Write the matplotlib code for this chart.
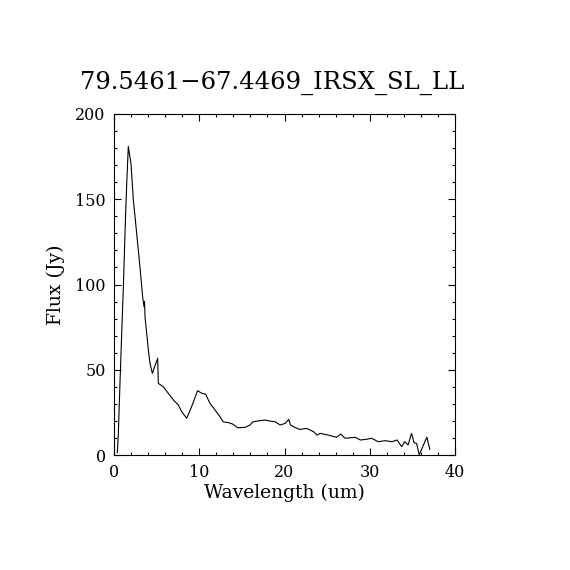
import numpy as np
import matplotlib
matplotlib.use('Agg')
import matplotlib.pyplot as plt
from matplotlib.ticker import MultipleLocator

titulo = '79.5461\u221267.4469_IRSX_SL_LL'

# comprimento de onda (um) e fluxo (Jy)
wave = [0.39, 0.51, 0.70, 0.90, 1.10, 1.29, 1.49, 1.68, 1.80, 1.99, 2.27, 2.66,
        3.05, 3.36, 3.52, 3.58, 3.64, 4.03, 4.22, 4.50, 5.12, 5.20, 5.79, 6.37,
        6.96, 7.55, 7.94, 8.53, 9.10, 9.80, 10.3, 10.75, 11.26, 11.85, 12.43, 12.8,
        13.4, 13.9, 14.5, 15.4, 15.95, 16.3, 17.1, 17.7, 18.3, 18.9, 19.5, 20.1,
        20.5, 20.7, 21.2, 21.8, 22.6, 23.4, 23.8, 24.2, 25.1, 26.1, 26.6, 27.1,
        28.3, 28.9, 29.6, 30.2, 31.0, 31.8, 32.6, 33.2, 33.75, 34.1, 34.5, 34.9,
        35.2, 35.5, 35.8, 36.3, 36.7, 37.05]
flux = [1.3, 12.7, 42.0, 71.0, 98.7, 130.0, 159.0, 181.0, 177.0, 171.0, 149.6, 130.0,
        110.0, 92.8, 87.0, 90.0, 81.0, 61.6, 53.8, 47.9, 56.7, 42.0, 40.0, 36.2,
        32.3, 29.3, 25.4, 21.5, 28.3, 37.7, 36.2, 35.6, 30.3, 26.4, 22.5, 19.5,
        19.0, 18.2, 16.0, 16.2, 17.6, 19.5, 20.1, 20.5, 19.9, 19.5, 17.6, 18.6,
        20.9, 17.6, 16.2, 15.0, 15.6, 13.7, 11.7, 12.7, 11.7, 10.4, 12.3, 9.8,
        10.4, 8.8, 9.2, 9.8, 7.8, 8.4, 7.8, 8.8, 4.9, 7.8, 5.9, 12.7,
        7.2, 6.8, 0.0, 5.9, 10.4, 3.3]

plt.rcParams['font.family'] = ['DejaVu Serif']

fig = plt.figure(figsize=(5.7, 5.7), dpi=100)
ax = fig.add_axes([114 / 570, 1 - 455 / 570, 341 / 570, 341 / 570])

ax.plot(wave, flux, color='black', linewidth=0.8)

ax.set_xlim(0, 40)
ax.set_ylim(0, 200)
ax.xaxis.set_major_locator(MultipleLocator(10))
ax.xaxis.set_minor_locator(MultipleLocator(2))
ax.yaxis.set_major_locator(MultipleLocator(50))
ax.yaxis.set_minor_locator(MultipleLocator(10))
ax.tick_params(which='both', direction='in', top=True, right=True,
               labelsize=11.5, width=0.8)
ax.tick_params(which='major', length=5)
ax.tick_params(which='minor', length=2.5)
ax.tick_params(axis='x', pad=6.5)
ax.tick_params(axis='y', pad=6)
for s in ax.spines.values():
    s.set_linewidth(0.8)

fig.text(272.5 / 570, 1 - 83 / 570, titulo, fontsize=17.5,
         ha='center', va='center')
ax.set_xlabel('Wavelength (um)', fontsize=13.5, labelpad=2)
ax.set_ylabel('Flux (Jy)', fontsize=13.5, labelpad=7)

fig.savefig('out.png', dpi=100)
